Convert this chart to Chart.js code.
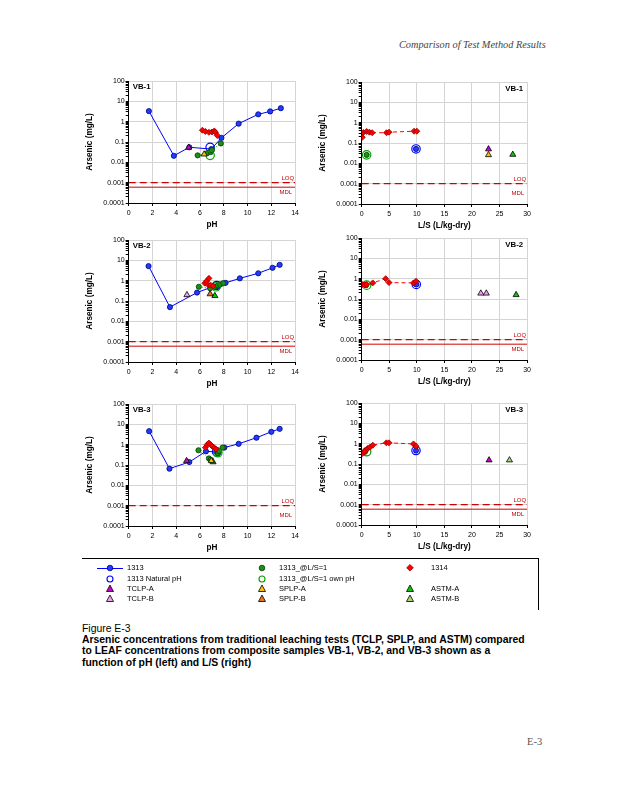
<!DOCTYPE html>
<html>
<head>
<meta charset="utf-8">
<script src="https://cdn.jsdelivr.net/npm/chart.js@4.4.1/dist/chart.umd.min.js"></script>
<style>
  body { margin: 0; width: 618px; height: 800px; background: #fff; position: relative; overflow: hidden;
         font-family: "Liberation Sans", Arial, sans-serif; color: #000; }
  canvas { position: absolute; }
  .abs { position: absolute; white-space: nowrap; }
  .hdr { font-family: "Liberation Serif", serif; font-style: italic; font-size: 10.3px; color: #444; }
  .lg  { font-size: 7.5px; line-height: 10px; }
  .cap { font-size: 10.4px; line-height: 11.3px; font-weight: bold; }
</style>
</head>
<body>
<div class="abs hdr" style="left:399px; top:39px;">Comparison of Test Method Results</div>

<canvas id="c1" width="224" height="165" style="left:78px; top:72px;"></canvas>
<canvas id="c2" width="224" height="165" style="left:310px; top:73px;"></canvas>
<canvas id="c3" width="224" height="165" style="left:78px; top:231px;"></canvas>
<canvas id="c4" width="224" height="165" style="left:310px; top:229px;"></canvas>
<canvas id="c5" width="224" height="165" style="left:78px; top:395px;"></canvas>
<canvas id="c6" width="224" height="165" style="left:310px; top:394px;"></canvas>

<div id="legend"></div>

<div class="abs" style="left:82px; top:622.5px; font-size:10.4px;">Figure E-3</div>
<div class="abs cap" style="left:82px; top:634px;">Arsenic concentrations from traditional leaching tests (TCLP, SPLP, and ASTM) compared<br>to LEAF concentrations from composite samples VB-1, VB-2, and VB-3 shown as a<br>function of pH (left) and L/S (right)</div>

<div class="abs" style="left:527px; top:736px; font-family:'Liberation Serif',serif; font-size:10.5px; color:#555;">E-3</div>

<script>
// ---- axis ticks ----
const yTickValues = [0.0001, 0.001, 0.01, 0.1, 1, 10, 100];
const yTickLabels = ['0.0001', '0.001', '0.01', '0.1', '1', '10', '100'];
const xTicksPH = [0, 2, 4, 6, 8, 10, 12, 14];
const xTicksLS = [0, 5, 10, 15, 20, 25, 30];
const LOQ = 0.001;
const MDL = 0.0006;

// ---- VB-1, vs pH  [pH, mg/L] ----
const vb1_ph_1313    = [[1.7, 3.3], [3.8, 0.021], [5.1, 0.055], [6.95, 0.045], [7.8, 0.16], [9.25, 0.8], [10.9, 2.3], [11.9, 3.2], [12.8, 4.6]];
const vb1_ph_natural = [[6.85, 0.055]];
const vb1_ph_1316    = [[5.8, 0.022], [6.6, 0.028], [6.9, 0.032], [7.0, 0.04], [7.75, 0.085]];
const vb1_ph_own     = [[6.85, 0.022]];
const vb1_ph_1314    = [[6.2, 0.38], [6.45, 0.33], [6.75, 0.3], [7.0, 0.31], [7.2, 0.35], [7.3, 0.3], [7.45, 0.21]];
const vb1_ph_tclpA   = [[5.05, 0.054]];
const vb1_ph_splpA   = [[6.35, 0.025]];

// ---- VB-1, vs L/S  [L/S, mg/L] ----
const vb1_ls_1314    = [[0.1, 0.19], [0.3, 0.33], [0.9, 0.37], [1.4, 0.34], [1.9, 0.32], [4.5, 0.32], [4.95, 0.34], [9.5, 0.38], [10, 0.38]];
const vb1_ls_1316    = [[0.9, 0.026]];
const vb1_ls_own     = [[0.9, 0.026]];
const vb1_ls_1313    = [[9.85, 0.051]];
const vb1_ls_natural = [[9.85, 0.051]];
const vb1_ls_tclpA   = [[23, 0.05]];
const vb1_ls_splpA   = [[23, 0.026]];
const vb1_ls_astmA   = [[27.4, 0.027]];

// ---- VB-2, vs pH ----
const vb2_ph_1313    = [[1.67, 5.2], [3.47, 0.05], [5.75, 0.26], [7.05, 0.5], [7.5, 0.55], [8.15, 0.78], [9.35, 1.3], [10.9, 2.3], [12.1, 4.3], [12.7, 6.0]];
const vb2_ph_natural = [[7.4, 0.58]];
const vb2_ph_1316    = [[5.9, 0.5], [6.85, 0.42], [7.2, 0.5], [7.5, 0.58], [7.7, 0.65], [7.95, 0.75]];
const vb2_ph_own     = [[7.35, 0.5]];
const vb2_ph_1314    = [[6.4, 0.75], [6.55, 0.95], [6.75, 1.3], [6.7, 0.62], [6.9, 0.6], [7.1, 0.55]];
const vb2_ph_tclpB   = [[4.9, 0.2]];
const vb2_ph_splpB   = [[6.85, 0.22]];
const vb2_ph_astmA   = [[7.25, 0.18]];

// ---- VB-2, vs L/S ----
const vb2_ls_1314    = [[0.1, 0.52], [0.5, 0.5], [0.9, 0.52], [2.0, 0.62], [4.35, 1.0], [4.95, 0.64], [9.4, 0.62], [9.85, 0.75]];
const vb2_ls_1316    = [[0.8, 0.48]];
const vb2_ls_own     = [[0.9, 0.48]];
const vb2_ls_1313    = [[9.9, 0.52]];
const vb2_ls_natural = [[9.9, 0.52]];
const vb2_ls_tclpB   = [[21.6, 0.19], [22.6, 0.19]];
const vb2_ls_astmA   = [[28, 0.16]];

// ---- VB-3, vs pH ----
const vb3_ph_1313    = [[1.72, 4.6], [3.43, 0.066], [5.1, 0.14], [6.5, 0.47], [7.4, 0.44], [8.05, 0.72], [9.25, 1.1], [10.75, 2.2], [12.0, 4.3], [12.7, 6.0]];
const vb3_ph_natural = [[7.4, 0.44]];
const vb3_ph_1316    = [[5.87, 0.53], [6.75, 0.21], [6.9, 0.18], [7.5, 0.38], [7.6, 0.48], [7.9, 0.72]];
const vb3_ph_own     = [[7.5, 0.4]];
const vb3_ph_1314    = [[6.45, 0.72], [6.6, 1.0], [6.75, 1.2], [6.9, 1.0], [7.05, 0.82], [7.2, 0.7], [7.35, 0.6]];
const vb3_ph_tclpA   = [[4.87, 0.16]];
const vb3_ph_splpA   = [[6.95, 0.16]];
const vb3_ph_astmA   = [[7.1, 0.14]];

// ---- VB-3, vs L/S ----
const vb3_ls_1314    = [[0.1, 0.33], [0.6, 0.42], [1.07, 0.58], [1.5, 0.67], [2.0, 0.84], [4.47, 1.1], [4.95, 1.1], [9.4, 0.97], [9.85, 0.75]];
const vb3_ls_1316    = [[0.6, 0.4]];
const vb3_ls_own     = [[0.9, 0.4]];
const vb3_ls_1313    = [[9.85, 0.46]];
const vb3_ls_natural = [[9.85, 0.46]];
const vb3_ls_tclpA   = [[23.1, 0.155]];
const vb3_ls_astmB   = [[26.8, 0.155]];

const FONT = '"Liberation Sans", Arial, sans-serif';

// marker styles for each series
const styles = {
  tclpA:   { label: 'TCLP-A', pointStyle: 'triangle', bg: '#cc00cc', border: '#000', r: 3.5 },
  tclpB:   { label: 'TCLP-B', pointStyle: 'triangle', bg: '#f59cf0', border: '#000', r: 3.5 },
  splpA:   { label: 'SPLP-A', pointStyle: 'triangle', bg: '#ffc000', border: '#000', r: 3.5 },
  splpB:   { label: 'SPLP-B', pointStyle: 'triangle', bg: '#f07020', border: '#000', r: 3.5 },
  astmA:   { label: 'ASTM-A', pointStyle: 'triangle', bg: '#00cc00', border: '#000', r: 3.5 },
  astmB:   { label: 'ASTM-B', pointStyle: 'triangle', bg: '#a6d86a', border: '#000', r: 3.5 },
  m1314:   { label: '1314', pointStyle: 'rectRot', bg: '#ff0000', border: '#900000', r: 3 },
  own:     { label: '1313_@L/S=1 own pH', pointStyle: 'circle', bg: 'rgba(0,0,0,0)', border: '#00a000', r: 4.2 },
  m1316:   { label: '1313_@L/S=1', pointStyle: 'circle', bg: '#1e8c1e', border: '#004000', r: 2.6 },
  natural: { label: '1313 Natural pH', pointStyle: 'circle', bg: 'rgba(0,0,0,0)', border: '#0000ff', r: 4.2 },
  m1313:   { label: '1313', pointStyle: 'circle', bg: '#1f3dff', border: '#000080', r: 2.6 },
};
const drawOrder = ['tclpA', 'tclpB', 'splpA', 'splpB', 'astmA', 'astmB', 'm1314', 'own', 'm1316', 'natural', 'm1313'];

const panels = [
  { id: 'c1', name: 'VB-1', axis: 'ph', yw: 50.7, mdlLine: true,
    series: { m1313: vb1_ph_1313, natural: vb1_ph_natural, m1316: vb1_ph_1316, own: vb1_ph_own, m1314: vb1_ph_1314, tclpA: vb1_ph_tclpA, splpA: vb1_ph_splpA } },
  { id: 'c2', name: 'VB-1', axis: 'ls', yw: 51.7, mdlLine: false,
    series: { m1313: vb1_ls_1313, natural: vb1_ls_natural, m1316: vb1_ls_1316, own: vb1_ls_own, m1314: vb1_ls_1314, tclpA: vb1_ls_tclpA, splpA: vb1_ls_splpA, astmA: vb1_ls_astmA } },
  { id: 'c3', name: 'VB-2', axis: 'ph', yw: 50.7, mdlLine: true,
    series: { m1313: vb2_ph_1313, natural: vb2_ph_natural, m1316: vb2_ph_1316, own: vb2_ph_own, m1314: vb2_ph_1314, tclpB: vb2_ph_tclpB, splpB: vb2_ph_splpB, astmA: vb2_ph_astmA } },
  { id: 'c4', name: 'VB-2', axis: 'ls', yw: 51.7, mdlLine: true,
    series: { m1313: vb2_ls_1313, natural: vb2_ls_natural, m1316: vb2_ls_1316, own: vb2_ls_own, m1314: vb2_ls_1314, tclpB: vb2_ls_tclpB, astmA: vb2_ls_astmA } },
  { id: 'c5', name: 'VB-3', axis: 'ph', yw: 50.7, mdlLine: false,
    series: { m1313: vb3_ph_1313, natural: vb3_ph_natural, m1316: vb3_ph_1316, own: vb3_ph_own, m1314: vb3_ph_1314, tclpA: vb3_ph_tclpA, splpA: vb3_ph_splpA, astmA: vb3_ph_astmA } },
  { id: 'c6', name: 'VB-3', axis: 'ls', yw: 51.7, mdlLine: true,
    series: { m1313: vb3_ls_1313, natural: vb3_ls_natural, m1316: vb3_ls_1316, own: vb3_ls_own, m1314: vb3_ls_1314, tclpA: vb3_ls_tclpA, astmB: vb3_ls_astmB } },
];

const toXY = arr => arr.map(([x, y]) => ({ x, y }));

// panel name + LOQ/MDL captions
const panelText = {
  id: 'panelText',
  afterDraw(chart, args, opts) {
    const { ctx, chartArea: a } = chart;
    const y = chart.scales.y;
    ctx.save();
    ctx.textBaseline = 'middle';
    ctx.fillStyle = '#000';
    ctx.font = 'bold 7.8px ' + FONT;
    if (opts.corner === 'left') {
      ctx.textAlign = 'left';
      ctx.fillText(opts.name, a.left + 4, a.top + 6);
    } else {
      ctx.textAlign = 'right';
      ctx.fillText(opts.name, a.right - 4, a.top + 7);
    }
    ctx.fillStyle = '#c00000';
    ctx.font = '6px ' + FONT;
    ctx.textAlign = 'right';
    ctx.fillText('LOQ', a.right - 1, y.getPixelForValue(LOQ) - 4);
    ctx.fillText('MDL', a.right - 3, y.getPixelForValue(MDL) + 5);
    ctx.restore();
  }
};

function buildChart(p) {
  const isPH = p.axis === 'ph';
  const xMax = isPH ? 14 : 30;
  const datasets = [];
  drawOrder.forEach(key => {
    const data = p.series[key];
    if (!data) return;
    const s = styles[key];
    const ds = {
      label: s.label,
      data: toXY(data),
      pointStyle: s.pointStyle,
      pointRadius: s.r,
      pointBackgroundColor: s.bg,
      pointBorderColor: s.border,
      pointBorderWidth: key === 'own' || key === 'natural' ? 1.2 : 0.8,
      showLine: false,
    };
    if (key === 'm1313' && isPH) {
      Object.assign(ds, { showLine: true, borderColor: '#0000ff', borderWidth: 1 });
    }
    if (key === 'm1314') {
      Object.assign(ds, { showLine: true, borderColor: '#ff0000', borderWidth: 1, borderDash: isPH ? [2, 2] : [4, 3] });
    }
    if (key === 'm1316' && isPH) {
      Object.assign(ds, { showLine: true, borderColor: '#00a000', borderWidth: 1, borderDash: [1, 2] });
    }
    datasets.push(ds);
  });
  datasets.push({
    label: 'LOQ', data: [{ x: 0, y: LOQ }, { x: xMax, y: LOQ }], showLine: true, pointRadius: 0,
    borderColor: '#d00000', borderWidth: 1.3, borderDash: [7, 4]
  });
  if (p.mdlLine) {
    datasets.push({
      label: 'MDL', data: [{ x: 0, y: MDL }, { x: xMax, y: MDL }], showLine: true, pointRadius: 0,
      borderColor: '#d00000', borderWidth: 1
    });
  }

  const xTicks = isPH ? xTicksPH : xTicksLS;
  new Chart(document.getElementById(p.id), {
    type: 'scatter',
    data: { datasets },
    options: {
      responsive: false,
      animation: false,
      events: [],
      layout: { padding: { top: 9, right: 5, left: 0, bottom: 0 } },
      plugins: {
        legend: { display: false },
        tooltip: { enabled: false },
        panelText: { name: p.name, corner: isPH ? 'left' : 'right' },
      },
      scales: {
        x: {
          type: 'linear', min: 0, max: xMax,
          afterBuildTicks: s => { s.ticks = xTicks.map(v => ({ value: v })); },
          afterFit: s => { s.height = 34; },
          ticks: { font: { size: 7, family: FONT }, color: '#000', padding: 3 },
          grid: { color: '#d4d4d4', tickColor: '#000', tickLength: 3 },
          border: { color: '#000' },
          title: { display: true, text: isPH ? 'pH' : 'L/S (L/kg-dry)', color: '#000',
                   font: { size: 8.2, weight: 'bold', family: FONT }, padding: { top: 0, bottom: 7 } },
        },
        y: {
          type: 'logarithmic', min: 0.0001, max: 100,
          afterBuildTicks: s => {
            const t = [];
            yTickValues.forEach((v, i) => {
              t.push({ value: v, major: true, lbl: yTickLabels[i] });
              if (v < 100) for (let m = 2; m <= 9; m++) t.push({ value: v * m, major: false });
            });
            s.ticks = t;
          },
          afterFit: s => { s.width = p.yw; },
          ticks: {
            autoSkip: false, padding: 1, color: '#000', font: { size: 7, family: FONT },
            callback: (v, i, t) => (t[i].major ? t[i].lbl : '')
          },
          grid: {
            color: c => (c.tick && c.tick.major ? '#d4d4d4' : 'rgba(0,0,0,0)'),
            tickColor: '#000', tickLength: 3
          },
          border: { color: '#000' },
          title: { display: true, text: 'Arsenic (mg/L)', color: '#000',
                   font: { size: 8.2, weight: 'bold', family: FONT }, padding: { top: isPH ? 7.1 : 7.8, bottom: 0 } },
        },
      },
    },
    plugins: [panelText],
  });
}

panels.forEach(buildChart);

// ---- legend (HTML) ----
const legendCols = [
  { mx: 110, tx: 127, keys: ['m1313', 'natural', 'tclpA', 'tclpB'] },
  { mx: 262, tx: 279, keys: ['m1316', 'own', 'splpA', 'splpB'] },
  { mx: 410, tx: 431, keys: ['m1314', null, 'astmA', 'astmB'] },
];
const legendRowsY = [568, 578.5, 589, 599];

function markerSvg(key) {
  const s = styles[key];
  let shape = '';
  if (s.pointStyle === 'triangle') {
    shape = `<polygon points="6,2 9.5,8.5 2.5,8.5" fill="${s.bg}" stroke="#000" stroke-width="0.8"/>`;
  } else if (s.pointStyle === 'rectRot') {
    shape = `<polygon points="6,2.5 9.3,5.8 6,9.1 2.7,5.8" fill="${s.bg}" stroke="${s.border}" stroke-width="0.8"/>`;
  } else if (s.bg.startsWith('rgba')) {
    shape = `<circle cx="6" cy="6" r="3" fill="none" stroke="${s.border}" stroke-width="1.1"/>`;
  } else {
    shape = `<circle cx="6" cy="6" r="2.8" fill="${s.bg}" stroke="${s.border}" stroke-width="0.8"/>`;
  }
  return `<svg width="12" height="12" style="position:absolute;left:-6px;top:-6px;overflow:visible">${shape}</svg>`;
}

let html = '<div class="abs" style="left:82px; top:557.5px; width:456px; height:51px; border-top:1px solid #000; border-right:1px solid #000;"></div>';
legendCols.forEach(col => {
  col.keys.forEach((key, r) => {
    if (!key) return;
    const y = legendRowsY[r];
    if (key === 'm1313') {
      html += `<div class="abs" style="left:97px; top:${y - 0.5}px; width:26px; height:1px; background:#0000ff;"></div>`;
    }
    html += `<div class="abs" style="left:${col.mx}px; top:${y}px;">${markerSvg(key)}</div>`;
    html += `<div class="abs lg" style="left:${col.tx}px; top:${y - 5}px;">${styles[key].label}</div>`;
  });
});
document.getElementById('legend').innerHTML = html;
</script>
</body>
</html>
